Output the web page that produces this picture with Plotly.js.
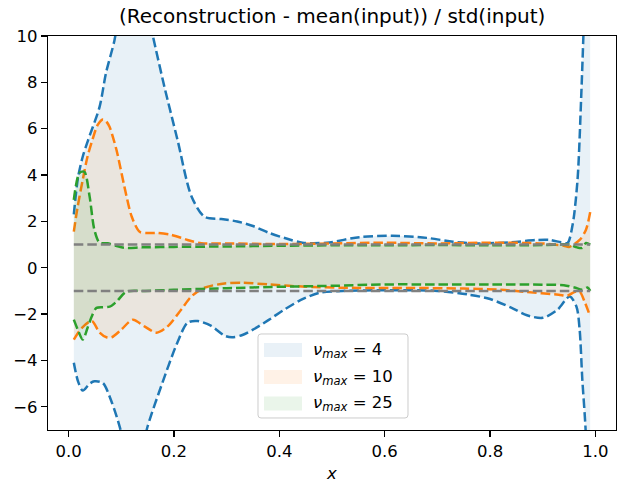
<!DOCTYPE html>
<html>
<head>
<meta charset="utf-8">
<script src="https://cdn.plot.ly/plotly-3.0.1.min.js"></script>
<style>
  html, body { margin: 0; padding: 0; background: #fff; }
  #chart { width: 625px; height: 483px; }
</style>
</head>
<body>
<div id="chart"></div>
<script>
// Normalised reconstruction bands for three truncation orders (nu_max).
// Each band has an upper and lower curve, sampled along x.

const labels = ["4", "10", "25"];

// nu_max = 4
const x4Upper = [0.01, 0.018, 0.027, 0.037, 0.059, 0.071, 0.087, 0.10, 0.12, 0.14, 0.16, 0.182, 0.207, 0.233, 0.258, 0.29, 0.32, 0.35, 0.381, 0.415, 0.444, 0.49, 0.552, 0.615, 0.68, 0.73, 0.78, 0.84, 0.89, 0.913, 0.935, 0.947, 0.957, 0.966, 0.973, 0.98, 0.99];
const y4Upper = [2.3, 3.9, 4.8, 5.5, 6.95, 8.4, 9.8, 11.5, 12.5, 12.0, 10.0, 7.8, 5.5, 3.1, 2.2, 2.1, 2.0, 1.8, 1.5, 1.25, 1.08, 1.08, 1.32, 1.38, 1.29, 1.12, 1.05, 1.1, 1.2, 1.2, 1.1, 1.07, 1.9, 3.8, 7.4, 12.0, 20.0];
const x4Lower = [0.01, 0.018, 0.027, 0.04, 0.049, 0.065, 0.082, 0.097, 0.11, 0.125, 0.14, 0.15, 0.176, 0.207, 0.226, 0.245, 0.27, 0.296, 0.31, 0.33, 0.35, 0.38, 0.41, 0.44, 0.476, 0.52, 0.6, 0.7, 0.76, 0.8, 0.84, 0.87, 0.9, 0.928, 0.951, 0.964, 0.97, 0.975, 0.981, 0.99];
const y4Lower = [-4.1, -4.9, -5.3, -5.0, -4.9, -4.97, -5.8, -6.85, -8.0, -8.5, -7.8, -6.85, -5.1, -3.2, -2.37, -2.3, -2.5, -2.93, -3.0, -2.9, -2.67, -2.25, -1.8, -1.4, -1.08, -1.0, -0.97, -1.0, -1.16, -1.35, -1.72, -2.05, -2.16, -1.81, -1.24, -1.68, -2.67, -4.8, -6.85, -12.0];

// nu_max = 10
const x10Upper = [0.01, 0.017, 0.027, 0.036, 0.045, 0.055, 0.065, 0.072, 0.078, 0.091, 0.106, 0.12, 0.135, 0.15, 0.169, 0.195, 0.226, 0.252, 0.3, 0.4, 0.5, 0.6, 0.7, 0.8, 0.9, 0.94, 0.95, 0.97, 0.982, 0.99];
const y10Upper = [1.56, 2.6, 3.8, 4.8, 5.5, 6.15, 6.4, 6.3, 6.07, 5.08, 3.5, 2.2, 1.55, 1.5, 1.5, 1.42, 1.2, 1.06, 1.05, 1.02, 1.05, 1.08, 1.05, 1.08, 1.05, 0.95, 0.9, 1.2, 1.64, 2.4];
const x10Lower = [0.01, 0.025, 0.044, 0.059, 0.072, 0.082, 0.1, 0.122, 0.144, 0.167, 0.188, 0.214, 0.233, 0.258, 0.296, 0.33, 0.38, 0.45, 0.55, 0.65, 0.75, 0.82, 0.87, 0.93, 0.947, 0.96, 0.97, 0.98, 0.99];
const y10Lower = [-3.1, -2.6, -2.3, -2.8, -3.0, -3.0, -2.67, -2.24, -2.53, -2.8, -2.53, -1.8, -1.24, -0.86, -0.68, -0.65, -0.72, -0.82, -0.87, -0.87, -0.9, -0.95, -1.05, -1.16, -1.2, -1.05, -1.03, -1.5, -2.1];

// nu_max = 25
const x25Upper = [0.01, 0.021, 0.03, 0.04, 0.049, 0.059, 0.074, 0.09, 0.106, 0.14, 0.2, 0.3, 0.4, 0.5, 0.6, 0.7, 0.8, 0.9, 0.95, 0.965, 0.975, 0.982, 0.99];
const y25Upper = [2.93, 4.1, 4.14, 3.07, 1.64, 1.08, 1.06, 0.95, 0.86, 0.88, 0.9, 0.92, 0.95, 0.97, 0.97, 0.98, 0.97, 0.98, 1.0, 0.88, 0.86, 1.07, 1.0];
const x25Lower = [0.01, 0.018, 0.027, 0.036, 0.044, 0.053, 0.065, 0.078, 0.091, 0.11, 0.145, 0.2, 0.3, 0.4, 0.5, 0.6, 0.7, 0.8, 0.9, 0.94, 0.96, 0.975, 0.985, 0.99];
const y25Lower = [-2.24, -2.7, -3.1, -2.6, -2.1, -1.73, -1.7, -1.68, -1.46, -1.03, -1.0, -0.95, -0.88, -0.82, -0.78, -0.72, -0.72, -0.72, -0.73, -0.75, -0.85, -0.95, -0.85, -1.0];

// Reference levels of +/- one standard deviation
const refX = [0.01, 0.99];
const refUpper = [1, 1];
const refLower = [-1, -1];

const bands = [
  { label: labels[0], xu: x4Upper, yu: y4Upper, xl: x4Lower, yl: y4Lower, color: "#1f77b4", fill: "rgba(31,119,180,0.1)" },
  { label: labels[1], xu: x10Upper, yu: y10Upper, xl: x10Lower, yl: y10Lower, color: "#ff7f0e", fill: "rgba(255,127,14,0.1)" },
  { label: labels[2], xu: x25Upper, yu: y25Upper, xl: x25Lower, yl: y25Lower, color: "#2ca02c", fill: "rgba(44,160,44,0.1)" }
];

const dash = "9.5px,4px";
const lineW = 2.5;
const traces = [];

bands.forEach((b) => {
  // shaded region between the two curves
  traces.push({
    x: b.xl, y: b.yl, type: "scatter", mode: "lines",
    line: { width: 0, shape: "spline", smoothing: 0.8 },
    showlegend: false, hoverinfo: "skip"
  });
  traces.push({
    x: b.xu, y: b.yu, type: "scatter", mode: "lines",
    fill: "tonexty", fillcolor: b.fill,
    line: { width: 0, shape: "spline", smoothing: 0.8 },
    showlegend: false
  });
  // dashed boundary curves
  traces.push({
    x: b.xu, y: b.yu, type: "scatter", mode: "lines",
    line: { color: b.color, width: lineW, dash: dash, shape: "spline", smoothing: 0.8 },
    showlegend: false
  });
  traces.push({
    x: b.xl, y: b.yl, type: "scatter", mode: "lines",
    line: { color: b.color, width: lineW, dash: dash, shape: "spline", smoothing: 0.8 },
    showlegend: false
  });
});

[refUpper, refLower].forEach(ref => {
  traces.push({
    x: refX, y: ref, type: "scatter", mode: "lines",
    line: { color: "#808080", width: lineW, dash: dash },
    showlegend: false
  });
});

const font = { family: "DejaVu Sans", size: 16.5, color: "#000" };

// Legend box: rounded frame, colour patches and labels (paper coordinates)
const legendBox = { x0: 0.3697, x1: 0.6338, y0: 0.0305, y1: 0.2437 };
const patchX = [0.3803, 0.4472];
const rowY = [0.2030, 0.1345, 0.0675];
const patchH = 0.0178;
const patchColors = ["#e9f1f7", "#fff2e7", "#eaf5ea"];

function roundedRect(b, r) {
  const rx = r / 568, ry = r / 394;
  return `M ${b.x0 + rx},${b.y0} L ${b.x1 - rx},${b.y0} Q ${b.x1},${b.y0} ${b.x1},${b.y0 + ry} ` +
         `L ${b.x1},${b.y1 - ry} Q ${b.x1},${b.y1} ${b.x1 - rx},${b.y1} ` +
         `L ${b.x0 + rx},${b.y1} Q ${b.x0},${b.y1} ${b.x0},${b.y1 - ry} ` +
         `L ${b.x0},${b.y0 + ry} Q ${b.x0},${b.y0} ${b.x0 + rx},${b.y0} Z`;
}

const shapes = [{
  type: "path", xref: "paper", yref: "paper", layer: "above",
  path: roundedRect(legendBox, 3),
  fillcolor: "rgba(255,255,255,0.8)", line: { color: "#cccccc", width: 1 }
}];
const annotations = [];
bands.forEach((b, i) => {
  shapes.push({
    type: "rect", xref: "paper", yref: "paper", layer: "above",
    x0: patchX[0], x1: patchX[1], y0: rowY[i] - patchH, y1: rowY[i] + patchH,
    fillcolor: patchColors[i], line: { width: 0 }
  });
  annotations.push({
    xref: "paper", yref: "paper", x: 0.4630, y: rowY[i],
    xanchor: "left", yanchor: "middle", showarrow: false,
    text: "<i>ν</i><sub><i>max</i></sub> = " + b.label,
    font: { family: "DejaVu Sans", size: 16.5, color: "#000" }
  });
});

const layout = {
  width: 625, height: 483,
  margin: { l: 48, r: 9, t: 36, b: 53 },
  paper_bgcolor: "#fff", plot_bgcolor: "#fff",
  font: font,
  title: {
    text: "(Reconstruction - mean(input)) / std(input)",
    font: { family: "DejaVu Sans", size: 20, color: "#000" },
    x: 0.5315, xanchor: "center", y: 0.966, yanchor: "middle"
  },
  xaxis: {
    range: [-0.039, 1.039],
    tickvals: [0, 0.2, 0.4, 0.6, 0.8, 1.0],
    ticktext: ["0.0", "0.2", "0.4", "0.6", "0.8", "1.0"],
    showgrid: false, zeroline: false,
    showline: true, mirror: true, linecolor: "#000", linewidth: 1.3,
    ticks: "outside", ticklen: 5.8, tickwidth: 1.3, tickcolor: "#000",
    tickfont: font,
    title: { text: "<i>x</i>", font: font, standoff: 8 }
  },
  yaxis: {
    range: [-7, 10],
    tickvals: [-6, -4, -2, 0, 2, 4, 6, 8, 10],
    showgrid: false, zeroline: false,
    showline: true, mirror: true, linecolor: "#000", linewidth: 1.3,
    ticks: "outside", ticklen: 5.8, tickwidth: 1.3, tickcolor: "#000",
    tickfont: font
  },
  shapes: shapes,
  annotations: annotations,
  showlegend: false
};

Plotly.newPlot("chart", traces, layout, { displayModeBar: false, staticPlot: true });
</script>
</body>
</html>
